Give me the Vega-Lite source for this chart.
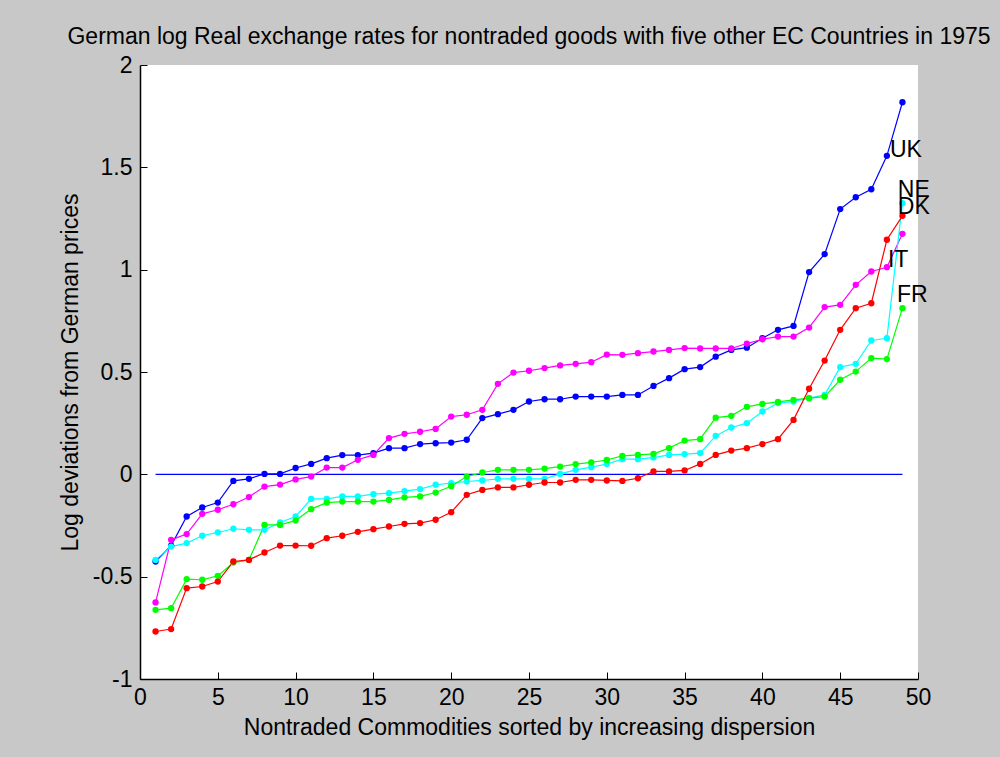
{
  "$schema": "https://vega.github.io/schema/vega-lite/v6.json",
  "width": 778,
  "height": 614,
  "autosize": "none",
  "padding": {"left": 140, "top": 65, "right": 82, "bottom": 78},
  "background": "#c8c8c8",
  "config": {
    "font": "Liberation Sans",
    "view": {"fill": "white", "stroke": null},
    "axis": {"grid": false, "domainColor": "black", "tickColor": "black", "labelColor": "black", "titleColor": "black", "labelFontSize": 23, "titleFontSize": 23, "titleFontWeight": "normal", "labelFont": "Liberation Sans", "titleFont": "Liberation Sans", "tickSize": -7, "domainWidth": 1.5, "tickWidth": 1}
  },
  "title": {"text": "German log Real exchange rates for nontraded goods with five other EC Countries in 1975", "fontSize": 23, "fontWeight": "normal", "font": "Liberation Sans", "color": "black", "offset": 5, "anchor": "middle"},
  "datasets": {
    "series": [
      {"c":"UK","i":1,"v":-0.426},{"c":"UK","i":2,"v":-0.348},{"c":"UK","i":3,"v":-0.206},{"c":"UK","i":4,"v":-0.162},{"c":"UK","i":5,"v":-0.138},{"c":"UK","i":6,"v":-0.032},{"c":"UK","i":7,"v":-0.022},{"c":"UK","i":8,"v":0.002},{"c":"UK","i":9,"v":0.002},{"c":"UK","i":10,"v":0.031},{"c":"UK","i":11,"v":0.051},{"c":"UK","i":12,"v":0.079},{"c":"UK","i":13,"v":0.094},{"c":"UK","i":14,"v":0.094},{"c":"UK","i":15,"v":0.104},{"c":"UK","i":16,"v":0.128},{"c":"UK","i":17,"v":0.128},{"c":"UK","i":18,"v":0.148},{"c":"UK","i":19,"v":0.152},{"c":"UK","i":20,"v":0.155},{"c":"UK","i":21,"v":0.169},{"c":"UK","i":22,"v":0.275},{"c":"UK","i":23,"v":0.294},{"c":"UK","i":24,"v":0.315},{"c":"UK","i":25,"v":0.356},{"c":"UK","i":26,"v":0.367},{"c":"UK","i":27,"v":0.367},{"c":"UK","i":28,"v":0.38},{"c":"UK","i":29,"v":0.38},{"c":"UK","i":30,"v":0.38},{"c":"UK","i":31,"v":0.388},{"c":"UK","i":32,"v":0.388},{"c":"UK","i":33,"v":0.432},{"c":"UK","i":34,"v":0.47},{"c":"UK","i":35,"v":0.514},{"c":"UK","i":36,"v":0.524},{"c":"UK","i":37,"v":0.575},{"c":"UK","i":38,"v":0.608},{"c":"UK","i":39,"v":0.619},{"c":"UK","i":40,"v":0.665},{"c":"UK","i":41,"v":0.706},{"c":"UK","i":42,"v":0.725},{"c":"UK","i":43,"v":0.988},{"c":"UK","i":44,"v":1.076},{"c":"UK","i":45,"v":1.296},{"c":"UK","i":46,"v":1.354},{"c":"UK","i":47,"v":1.393},{"c":"UK","i":48,"v":1.556},{"c":"UK","i":49,"v":1.818},
      {"c":"IT","i":1,"v":-0.626},{"c":"IT","i":2,"v":-0.32},{"c":"IT","i":3,"v":-0.292},{"c":"IT","i":4,"v":-0.193},{"c":"IT","i":5,"v":-0.173},{"c":"IT","i":6,"v":-0.146},{"c":"IT","i":7,"v":-0.111},{"c":"IT","i":8,"v":-0.06},{"c":"IT","i":9,"v":-0.05},{"c":"IT","i":10,"v":-0.025},{"c":"IT","i":11,"v":-0.011},{"c":"IT","i":12,"v":0.033},{"c":"IT","i":13,"v":0.033},{"c":"IT","i":14,"v":0.071},{"c":"IT","i":15,"v":0.095},{"c":"IT","i":16,"v":0.177},{"c":"IT","i":17,"v":0.198},{"c":"IT","i":18,"v":0.208},{"c":"IT","i":19,"v":0.222},{"c":"IT","i":20,"v":0.282},{"c":"IT","i":21,"v":0.291},{"c":"IT","i":22,"v":0.315},{"c":"IT","i":23,"v":0.442},{"c":"IT","i":24,"v":0.497},{"c":"IT","i":25,"v":0.506},{"c":"IT","i":26,"v":0.519},{"c":"IT","i":27,"v":0.532},{"c":"IT","i":28,"v":0.54},{"c":"IT","i":29,"v":0.548},{"c":"IT","i":30,"v":0.585},{"c":"IT","i":31,"v":0.584},{"c":"IT","i":32,"v":0.592},{"c":"IT","i":33,"v":0.6},{"c":"IT","i":34,"v":0.608},{"c":"IT","i":35,"v":0.617},{"c":"IT","i":36,"v":0.615},{"c":"IT","i":37,"v":0.615},{"c":"IT","i":38,"v":0.615},{"c":"IT","i":39,"v":0.639},{"c":"IT","i":40,"v":0.66},{"c":"IT","i":41,"v":0.673},{"c":"IT","i":42,"v":0.673},{"c":"IT","i":43,"v":0.717},{"c":"IT","i":44,"v":0.817},{"c":"IT","i":45,"v":0.828},{"c":"IT","i":46,"v":0.926},{"c":"IT","i":47,"v":0.991},{"c":"IT","i":48,"v":1.012},{"c":"IT","i":49,"v":1.175},
      {"c":"NE","i":1,"v":-0.418},{"c":"NE","i":2,"v":-0.353},{"c":"NE","i":3,"v":-0.336},{"c":"NE","i":4,"v":-0.3},{"c":"NE","i":5,"v":-0.284},{"c":"NE","i":6,"v":-0.266},{"c":"NE","i":7,"v":-0.271},{"c":"NE","i":8,"v":-0.271},{"c":"NE","i":9,"v":-0.235},{"c":"NE","i":10,"v":-0.206},{"c":"NE","i":11,"v":-0.12},{"c":"NE","i":12,"v":-0.12},{"c":"NE","i":13,"v":-0.108},{"c":"NE","i":14,"v":-0.108},{"c":"NE","i":15,"v":-0.097},{"c":"NE","i":16,"v":-0.092},{"c":"NE","i":17,"v":-0.082},{"c":"NE","i":18,"v":-0.072},{"c":"NE","i":19,"v":-0.051},{"c":"NE","i":20,"v":-0.043},{"c":"NE","i":21,"v":-0.035},{"c":"NE","i":22,"v":-0.03},{"c":"NE","i":23,"v":-0.022},{"c":"NE","i":24,"v":-0.022},{"c":"NE","i":25,"v":-0.022},{"c":"NE","i":26,"v":-0.022},{"c":"NE","i":27,"v":0.002},{"c":"NE","i":28,"v":0.022},{"c":"NE","i":29,"v":0.035},{"c":"NE","i":30,"v":0.05},{"c":"NE","i":31,"v":0.074},{"c":"NE","i":32,"v":0.074},{"c":"NE","i":33,"v":0.082},{"c":"NE","i":34,"v":0.095},{"c":"NE","i":35,"v":0.099},{"c":"NE","i":36,"v":0.104},{"c":"NE","i":37,"v":0.188},{"c":"NE","i":38,"v":0.229},{"c":"NE","i":39,"v":0.25},{"c":"NE","i":40,"v":0.307},{"c":"NE","i":41,"v":0.348},{"c":"NE","i":42,"v":0.356},{"c":"NE","i":43,"v":0.372},{"c":"NE","i":44,"v":0.388},{"c":"NE","i":45,"v":0.524},{"c":"NE","i":46,"v":0.54},{"c":"NE","i":47,"v":0.654},{"c":"NE","i":48,"v":0.665},{"c":"NE","i":49,"v":1.325},
      {"c":"FR","i":1,"v":-0.662},{"c":"FR","i":2,"v":-0.654},{"c":"FR","i":3,"v":-0.512},{"c":"FR","i":4,"v":-0.515},{"c":"FR","i":5,"v":-0.496},{"c":"FR","i":6,"v":-0.431},{"c":"FR","i":7,"v":-0.418},{"c":"FR","i":8,"v":-0.247},{"c":"FR","i":9,"v":-0.247},{"c":"FR","i":10,"v":-0.226},{"c":"FR","i":11,"v":-0.17},{"c":"FR","i":12,"v":-0.138},{"c":"FR","i":13,"v":-0.133},{"c":"FR","i":14,"v":-0.133},{"c":"FR","i":15,"v":-0.133},{"c":"FR","i":16,"v":-0.125},{"c":"FR","i":17,"v":-0.113},{"c":"FR","i":18,"v":-0.108},{"c":"FR","i":19,"v":-0.089},{"c":"FR","i":20,"v":-0.058},{"c":"FR","i":21,"v":-0.011},{"c":"FR","i":22,"v":0.009},{"c":"FR","i":23,"v":0.022},{"c":"FR","i":24,"v":0.022},{"c":"FR","i":25,"v":0.022},{"c":"FR","i":26,"v":0.028},{"c":"FR","i":27,"v":0.038},{"c":"FR","i":28,"v":0.05},{"c":"FR","i":29,"v":0.058},{"c":"FR","i":30,"v":0.07},{"c":"FR","i":31,"v":0.09},{"c":"FR","i":32,"v":0.095},{"c":"FR","i":33,"v":0.1},{"c":"FR","i":34,"v":0.128},{"c":"FR","i":35,"v":0.165},{"c":"FR","i":36,"v":0.172},{"c":"FR","i":37,"v":0.277},{"c":"FR","i":38,"v":0.286},{"c":"FR","i":39,"v":0.33},{"c":"FR","i":40,"v":0.344},{"c":"FR","i":41,"v":0.354},{"c":"FR","i":42,"v":0.364},{"c":"FR","i":43,"v":0.372},{"c":"FR","i":44,"v":0.38},{"c":"FR","i":45,"v":0.462},{"c":"FR","i":46,"v":0.502},{"c":"FR","i":47,"v":0.568},{"c":"FR","i":48,"v":0.563},{"c":"FR","i":49,"v":0.812},
      {"c":"DK","i":1,"v":-0.768},{"c":"DK","i":2,"v":-0.756},{"c":"DK","i":3,"v":-0.556},{"c":"DK","i":4,"v":-0.548},{"c":"DK","i":5,"v":-0.524},{"c":"DK","i":6,"v":-0.426},{"c":"DK","i":7,"v":-0.418},{"c":"DK","i":8,"v":-0.382},{"c":"DK","i":9,"v":-0.348},{"c":"DK","i":10,"v":-0.348},{"c":"DK","i":11,"v":-0.349},{"c":"DK","i":12,"v":-0.312},{"c":"DK","i":13,"v":-0.3},{"c":"DK","i":14,"v":-0.281},{"c":"DK","i":15,"v":-0.268},{"c":"DK","i":16,"v":-0.255},{"c":"DK","i":17,"v":-0.242},{"c":"DK","i":18,"v":-0.238},{"c":"DK","i":19,"v":-0.222},{"c":"DK","i":20,"v":-0.185},{"c":"DK","i":21,"v":-0.1},{"c":"DK","i":22,"v":-0.076},{"c":"DK","i":23,"v":-0.064},{"c":"DK","i":24,"v":-0.064},{"c":"DK","i":25,"v":-0.051},{"c":"DK","i":26,"v":-0.04},{"c":"DK","i":27,"v":-0.04},{"c":"DK","i":28,"v":-0.027},{"c":"DK","i":29,"v":-0.027},{"c":"DK","i":30,"v":-0.03},{"c":"DK","i":31,"v":-0.032},{"c":"DK","i":32,"v":-0.019},{"c":"DK","i":33,"v":0.014},{"c":"DK","i":34,"v":0.014},{"c":"DK","i":35,"v":0.019},{"c":"DK","i":36,"v":0.051},{"c":"DK","i":37,"v":0.095},{"c":"DK","i":38,"v":0.116},{"c":"DK","i":39,"v":0.128},{"c":"DK","i":40,"v":0.148},{"c":"DK","i":41,"v":0.172},{"c":"DK","i":42,"v":0.266},{"c":"DK","i":43,"v":0.418},{"c":"DK","i":44,"v":0.556},{"c":"DK","i":45,"v":0.706},{"c":"DK","i":46,"v":0.812},{"c":"DK","i":47,"v":0.836},{"c":"DK","i":48,"v":1.146},{"c":"DK","i":49,"v":1.263}
    ],
    "zero": [{"i": 1, "v": 0}, {"i": 49, "v": 0}],
    "labels": [
      {"c": "UK", "i": 48.2, "v": 1.585},
      {"c": "NE", "i": 48.7, "v": 1.39},
      {"c": "DK", "i": 48.7, "v": 1.307},
      {"c": "IT", "i": 48.07, "v": 1.048},
      {"c": "FR", "i": 48.65, "v": 0.877}
    ]
  },
  "layer": [
    {
      "data": {"name": "zero"},
      "mark": {"type": "line", "color": "#0000ff", "strokeWidth": 1.2},
      "encoding": {
        "x": {"field": "i", "type": "quantitative", "scale": {"domain": [0, 50], "nice": false}, "axis": {"values": [0, 5, 10, 15, 20, 25, 30, 35, 40, 45, 50], "title": "Nontraded Commodities sorted by increasing dispersion", "labelPadding": 14, "titlePadding": 7, "labelFlush": false}},
        "y": {"field": "v", "type": "quantitative", "scale": {"domain": [-1, 2], "nice": false}, "axis": {"values": [-1, -0.5, 0, 0.5, 1, 1.5, 2], "labelExpr": "'' + datum.value", "title": "Log deviations from German prices", "labelPadding": 15, "titlePadding": 10, "labelFlush": false}}
      }
    },
    {
      "data": {"name": "series"},
      "mark": {"type": "line", "strokeWidth": 1.2, "point": {"filled": true, "size": 40}},
      "encoding": {
        "x": {"field": "i", "type": "quantitative"},
        "y": {"field": "v", "type": "quantitative"},
        "color": {"field": "c", "type": "nominal", "scale": {"domain": ["FR", "DK", "NE", "IT", "UK"], "range": ["#00ff00", "#ff0000", "#00ffff", "#ff00ff", "#0000ff"]}, "legend": null}
      }
    },
    {
      "data": {"name": "labels"},
      "mark": {"type": "text", "align": "left", "baseline": "middle", "fontSize": 23, "font": "Liberation Sans", "color": "black"},
      "encoding": {
        "x": {"field": "i", "type": "quantitative"},
        "y": {"field": "v", "type": "quantitative"},
        "text": {"field": "c"}
      }
    }
  ]
}
